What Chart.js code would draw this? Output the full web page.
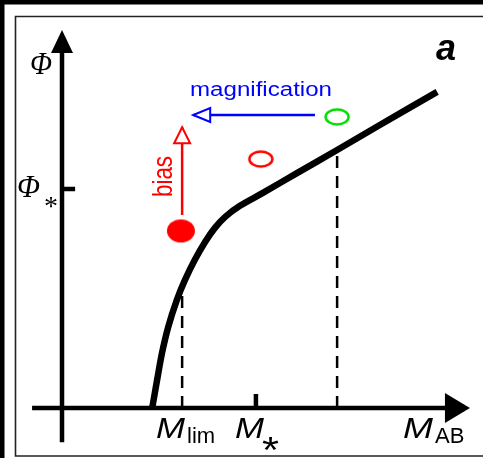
<!DOCTYPE html>
<html>
<head>
<meta charset="utf-8">
<script src="https://cdn.jsdelivr.net/npm/chart.js@4"></script>
<style>
  html, body { margin: 0; padding: 0; background: #fff; }
  canvas { display: block; }
</style>
</head>
<body>
<canvas id="grafico" width="483" height="458"></canvas>
<script>
// curva da função de luminosidade (unidades arbitrárias: M no eixo x, Phi no eixo y)
const curvaM   = [2.2, 2.32, 2.44, 2.59, 2.8, 3.0, 3.24, 3.49, 3.73, 3.98, 4.34, 4.9, 5.73, 6.71, 7.71, 9.15];
const curvaPhi = [0, 0.74, 1.45, 2.13, 2.84, 3.37, 3.9, 4.37, 4.74, 5.03, 5.32, 5.66, 6.18, 6.79, 7.42, 8.32];

// marcas nos eixos
const mLim = 2.93;
const mStar = 4.73;
const phiStar = 5.76;

// linhas tracejadas (x, topo)
const tracejadoM = [2.93, 6.71];
const tracejadoTopo = [3.0, 6.72];

// fontes: verde (ampliada), vermelha aberta, vermelha cheia
const fontesM = [6.71, 4.85, 2.9];
const fontesPhi = [7.66, 6.55, 4.66];

// setas (início -> ponta)
const setaMagM = [6.17, 3.2];
const setaMagPhi = [7.71, 7.71];
const setaBiasM = [2.93, 2.93];
const setaBiasPhi = [5.08, 7.39];

function pontos(xs, ys) {
  return xs.map((x, i) => ({ x: x, y: ys[i] }));
}

function elipse(rx, ry, cor, cheia, lw) {
  const c = document.createElement("canvas");
  c.width = Math.ceil(2 * rx + lw + 2);
  c.height = Math.ceil(2 * ry + lw + 2);
  const g = c.getContext("2d");
  g.beginPath();
  g.ellipse(c.width / 2, c.height / 2, rx, ry, 0, 0, Math.PI * 2);
  if (cheia) {
    g.fillStyle = cor;
    g.fill();
  } else {
    g.lineWidth = lw;
    g.strokeStyle = cor;
    g.stroke();
  }
  return c;
}

const estilosFontes = [
  elipse(11.5, 7.5, "#00dd00", false, 2.5),
  elipse(11.5, 7.5, "#ff0000", false, 2.5),
  elipse(14, 11.5, "#ff0000", true, 0)
];

function cabeca(ctx, x0, y0, x1, y1, comp, larg, cor, aberta) {
  const ang = Math.atan2(y1 - y0, x1 - x0);
  ctx.save();
  ctx.translate(x1, y1);
  ctx.rotate(ang);
  ctx.beginPath();
  ctx.moveTo(0, 0);
  ctx.lineTo(-comp, -larg);
  ctx.lineTo(-comp, larg);
  ctx.closePath();
  if (aberta) {
    ctx.fillStyle = "#fff";
    ctx.fill();
    ctx.lineWidth = 2;
    ctx.strokeStyle = cor;
    ctx.stroke();
  } else {
    ctx.fillStyle = cor;
    ctx.fill();
  }
  ctx.restore();
}

function texto(ctx, t, x, y, fonte, cor, largura, rot) {
  ctx.save();
  ctx.font = fonte;
  ctx.fillStyle = cor;
  ctx.textBaseline = "alphabetic";
  ctx.textAlign = "left";
  ctx.translate(x, y);
  if (rot) ctx.rotate(rot);
  if (largura) {
    const w = ctx.measureText(t).width;
    ctx.scale(largura / w, 1);
  }
  ctx.fillText(t, 0, 0);
  ctx.restore();
}

const esquema = {
  id: "esquema",
  beforeDraw(chart) {
    const ctx = chart.ctx;
    ctx.save();
    ctx.fillStyle = "#000";
    ctx.fillRect(0, 0, 483, 4.5);
    ctx.fillRect(0, 0, 4.5, 458);
    ctx.strokeStyle = "#222";
    ctx.lineWidth = 1.6;
    ctx.beginPath();
    ctx.moveTo(483, 16.5);
    ctx.lineTo(15.5, 16.5);
    ctx.lineTo(15.5, 456);
    ctx.lineTo(483, 456);
    ctx.stroke();
    ctx.restore();
  },
  beforeDatasetsDraw(chart) {
    const ctx = chart.ctx;
    const sx = chart.scales.x, sy = chart.scales.y;
    const x0 = sx.getPixelForValue(0), y0 = sy.getPixelForValue(0);
    ctx.save();
    ctx.strokeStyle = "#000";
    ctx.lineWidth = 4.5;
    ctx.lineCap = "butt";
    ctx.beginPath();
    // eixo x
    ctx.moveTo(sx.getPixelForValue(-0.73), y0);
    ctx.lineTo(sx.getPixelForValue(9.5), y0);
    // eixo y
    ctx.moveTo(x0, sy.getPixelForValue(-0.9));
    ctx.lineTo(x0, sy.getPixelForValue(9.5));
    // marca Phi*
    ctx.moveTo(x0, sy.getPixelForValue(phiStar));
    ctx.lineTo(sx.getPixelForValue(0.32), sy.getPixelForValue(phiStar));
    // marca M*
    ctx.moveTo(sx.getPixelForValue(mStar), y0);
    ctx.lineTo(sx.getPixelForValue(mStar), sy.getPixelForValue(0.37));
    ctx.stroke();
    ctx.restore();
    cabeca(ctx, x0, y0, sx.getPixelForValue(9.95), y0, 25, 15, "#000", false);
    cabeca(ctx, x0, y0, x0, sy.getPixelForValue(9.95), 23, 11, "#000", false);
  },
  afterDatasetsDraw(chart) {
    const ctx = chart.ctx;
    const sx = chart.scales.x, sy = chart.scales.y;
    cabeca(ctx, sx.getPixelForValue(setaMagM[0]), sy.getPixelForValue(setaMagPhi[0]),
      sx.getPixelForValue(setaMagM[1]), sy.getPixelForValue(setaMagPhi[1]), 17, 7, "#0000ff", true);
    cabeca(ctx, sx.getPixelForValue(setaBiasM[0]), sy.getPixelForValue(setaBiasPhi[0]),
      sx.getPixelForValue(setaBiasM[1]), sy.getPixelForValue(setaBiasPhi[1]), 16, 8, "#ff0000", true);

    const sans = "'Liberation Sans', Arial, sans-serif";
    const serif = "'Liberation Serif', 'Times New Roman', serif";
    texto(ctx, "Φ", 30, 74, "italic 31px " + serif, "#000", 22);
    texto(ctx, "Φ", 17, 197, "italic 31px " + serif, "#000", 23);
    texto(ctx, "*", 44, 215, "28px " + serif, "#000");
    texto(ctx, "a", 436, 60, "bold italic 36px " + sans, "#000");
    texto(ctx, "magnification", 190, 96, "20px " + sans, "#0000ff", 142);
    texto(ctx, "bias", 172, 197, "27px " + sans, "#ff0000", 41, -Math.PI / 2);

    const mFonte = "italic 30px " + sans;
    texto(ctx, "M", 156, 438, mFonte, "#000", 29);
    texto(ctx, "lim", 187, 443, "22px " + sans, "#000");
    texto(ctx, "M", 235, 438, mFonte, "#000", 29);
    texto(ctx, "*", 262, 463, "36px " + sans, "#000", 17);
    texto(ctx, "M", 403, 438, mFonte, "#000", 30);
    texto(ctx, "AB", 435, 443, "22px " + sans, "#000");
  }
};

const datasets = [];

tracejadoM.forEach((m, i) => {
  datasets.push({
    data: pontos([m, m], [0, tracejadoTopo[i]]),
    showLine: true,
    borderColor: "#000",
    borderWidth: 2.5,
    borderDash: [12, 8],
    pointRadius: 0
  });
});

datasets.push({
  data: pontos(curvaM, curvaPhi),
  showLine: true,
  borderColor: "#000",
  borderWidth: 6.5,
  borderCapStyle: "butt",
  tension: 0.35,
  pointRadius: 0
});

datasets.push({
  data: pontos(setaMagM, setaMagPhi),
  showLine: true,
  borderColor: "#0000ff",
  borderWidth: 2.5,
  pointRadius: 0
});

datasets.push({
  data: pontos(setaBiasM, setaBiasPhi),
  showLine: true,
  borderColor: "#ff0000",
  borderWidth: 2.5,
  pointRadius: 0
});

datasets.push({
  data: pontos(fontesM, fontesPhi),
  showLine: false,
  pointStyle: estilosFontes,
  pointRadius: 10
});

new Chart(document.getElementById("grafico"), {
  type: "scatter",
  data: { datasets: datasets },
  options: {
    responsive: false,
    animation: false,
    devicePixelRatio: 1,
    layout: { padding: { left: 62, right: 11, top: 28, bottom: 50 } },
    scales: {
      x: { type: "linear", min: 0, max: 10, display: false },
      y: { type: "linear", min: 0, max: 10, display: false }
    },
    plugins: { legend: { display: false }, tooltip: { enabled: false } }
  },
  plugins: [esquema]
});
</script>
</body>
</html>
